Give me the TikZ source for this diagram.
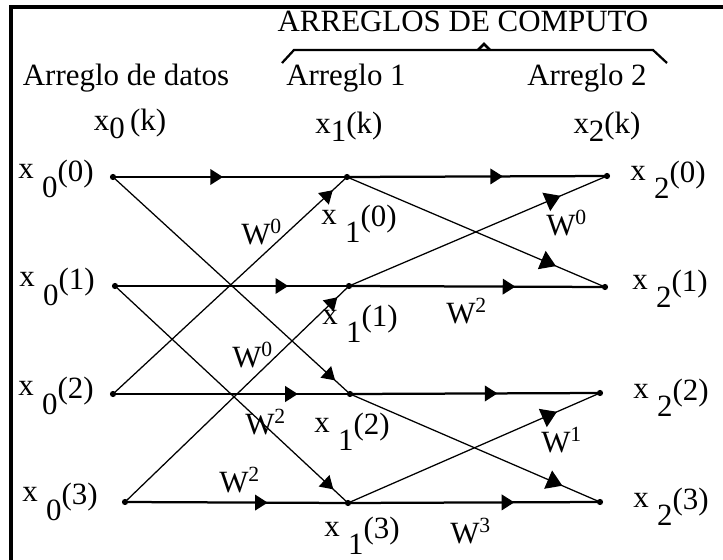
\documentclass[tikz,border=0pt]{standalone}
\usepackage{fontspec}
\setmainfont{Liberation Serif}
\usetikzlibrary{arrows.meta,decorations.markings}

\tikzset{
  flow/.style={postaction={decorate},decoration={markings,
      mark=at position #1 with {\arrow{Triangle[length=4.5pt,width=5.5pt]}}}},
  flow/.default=0.5,
  bigflow/.style={postaction={decorate},decoration={markings,
      mark=at position #1 with {\arrow{Triangle[length=5.5pt,width=7pt]}}}},
  bigflow/.default=0.8,
  rail/.style={line width=0.8pt},
  wire/.style={line width=0.45pt},
  lbl/.style={inner sep=0pt, font=\fontsize{11}{13}\selectfont},
}
% x with its array index lowered and the sample index raised
\newcommand{\xv}[2]{\raisebox{1.3ex}{x}\hspace{3pt}#1\raisebox{1.1ex}{(#2)}}
\newcommand{\xk}[1]{x\raisebox{-0.6ex}{#1}(k)}

\begin{document}
\begin{tikzpicture}[x=0.0125cm, y=-0.0125cm]
    \useasboundingbox (0,0) rectangle (723,560);
    % frame - only top and left edges are visible
    \draw[line width=1.1pt] (11,560) -- (11,7) -- (723,7);

    % header with brace over the two compute arrays
    \node[lbl] (title) at (463,21) {ARREGLOS DE COMPUTO};
    \draw[line width=0.8pt] (282,63) -- (294,50) -- (653,50) -- (667,63);
    \draw[line width=0.9pt] (478,50) -- (484,44) -- (490,50);
    \node[lbl] (hdat) at (126,78)  {Arreglo de datos};
    \node[lbl] (hone) at (346,78)  {Arreglo 1};
    \node[lbl] (htwo) at (587,78)  {Arreglo 2};
    \node[lbl] (kdat) at (130,124) {x\raisebox{-0.6ex}{0}\,(k)};
    \node[lbl] (kone) at (349,127) {\xk{1}};
    \node[lbl] (ktwo) at (607,127) {\xk{2}};

    % butterfly nodes: a = data array, b = array 1, c = array 2
    \coordinate (a0) at (113,177);
    \coordinate (a1) at (115,286);
    \coordinate (a2) at (113,394);
    \coordinate (a3) at (125,502);
    \coordinate (b0) at (347,177);
    \coordinate (b1) at (349,286);
    \coordinate (b2) at (350,394);
    \coordinate (b3) at (348,503);
    \coordinate (c0) at (607,176);
    \coordinate (c1) at (605,287);
    \coordinate (c2) at (600,393);
    \coordinate (c3) at (600,502);

    % first stage
    \draw[rail, flow=0.47] (a0) -- (b0);
    \draw[rail, flow=0.74] (a1) -- (b1);
    \draw[rail, flow=0.78] (a2) -- (b2);
    \draw[rail, flow=0.64] (a3) -- (b3);
    \draw[wire, flow=0.94] (a0) -- (b2);
    \draw[wire, flow=0.94] (a1) -- (b3);
    \draw[wire, flow=0.94] (a2) -- (b0);
    \draw[wire, flow=0.95] (a3) -- (b1);

    % second stage
    \draw[rail, flow=0.60] (b0) -- (c0);
    \draw[rail, flow=0.65] (b1) -- (c1);
    \draw[rail, flow=0.59] (b2) -- (c2);
    \draw[rail, flow=0.66] (b3) -- (c3);
    \draw[wire, bigflow=0.81] (b0) -- (c1);
    \draw[wire, bigflow=0.82] (b1) -- (c0);
    \draw[wire, bigflow=0.85] (b2) -- (c3);
    \draw[wire, bigflow=0.83] (b3) -- (c2);

    \foreach \p in {a0,a1,a2,a3,b0,b1,b2,b3,c0,c1,c2,c3}
      \fill (\p) circle (1.1pt);

    % sample labels
    \node[lbl] (la0) at (56,179) {\xv{0}{0}};
    \node[lbl] (la1) at (57,287) {\xv{0}{1}};
    \node[lbl] (la2) at (56,396) {\xv{0}{2}};
    \node[lbl] (la3) at (60,502) {\xv{0}{3}};
    \node[lbl] (lb0) at (359,224) {\xv{1}{0}};
    \node[lbl] (lb1) at (360,324) {\xv{1}{1}};
    \node[lbl] (lb2) at (352,432) {\xv{1}{2}};
    \node[lbl] (lb3) at (362,536) {\xv{1}{3}};
    \node[lbl] (lc0) at (668,180) {\xv{2}{0}};
    \node[lbl] (lc1) at (670,289) {\xv{2}{1}};
    \node[lbl] (lc2) at (671,398) {\xv{2}{2}};
    \node[lbl] (lc3) at (671,507) {\xv{2}{3}};

    % twiddle factors
    \node[lbl] (w1) at (262,232) {W\textsuperscript{0}};
    \node[lbl] (w2) at (253,355) {W\textsuperscript{0}};
    \node[lbl] (w3) at (266,422) {W\textsuperscript{2}};
    \node[lbl] (w4) at (240,480) {W\textsuperscript{2}};
    \node[lbl] (w5) at (567,223) {W\textsuperscript{0}};
    \node[lbl] (w6) at (467,311) {W\textsuperscript{2}};
    \node[lbl] (w7) at (562,440) {W\textsuperscript{1}};
    \node[lbl] (w8) at (471,531) {W\textsuperscript{3}};
\end{tikzpicture}
\end{document}
